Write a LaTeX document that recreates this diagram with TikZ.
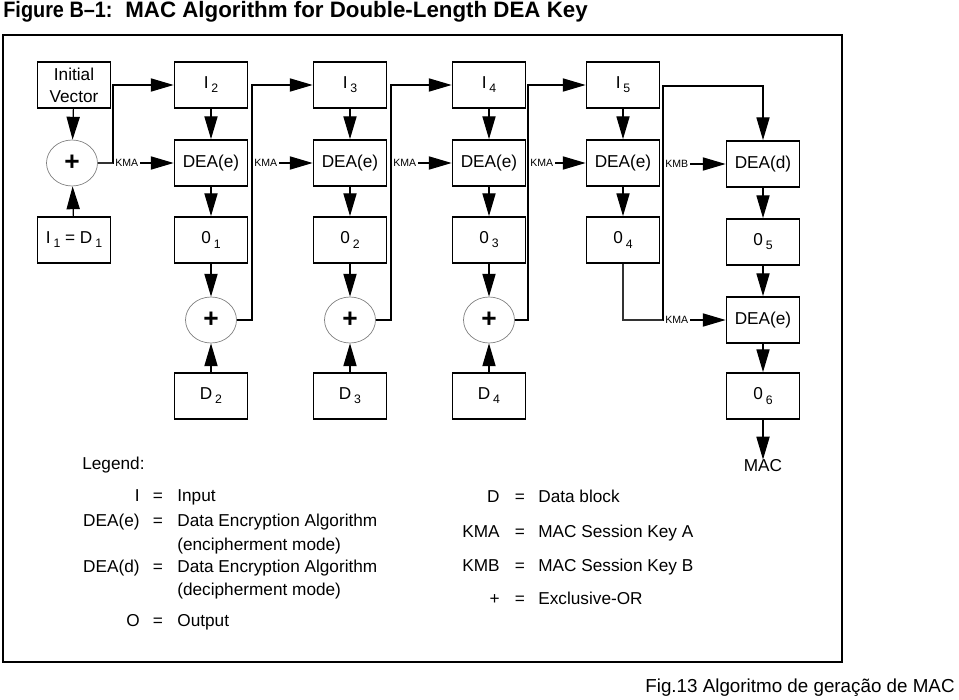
\documentclass[tikz,border=0pt]{standalone}
\usepackage{fontspec}
\setmainfont{Liberation Sans}
\usetikzlibrary{positioning, arrows.meta, shapes.geometric}

\newcommand{\idx}[1]{\,\raisebox{-0.45ex}{\fontsize{7}{8}\selectfont #1}}

\tikzset{
  blk/.style={draw, line width=1pt, minimum width=1.46cm, minimum height=0.92cm,
              inner sep=1pt, font=\fontsize{9.8}{12.5}\selectfont},
  xorc/.style={draw=gray, ellipse, minimum width=1.02cm, minimum height=0.92cm,
               inner sep=0pt, font=\fontsize{15}{15}\selectfont\bfseries},
  flow/.style={-{Triangle[length=13pt, width=7.5pt]}, line width=0.7pt},
  wire/.style={line width=0.6pt, draw=black!80},
  key/.style={font=\fontsize{6}{7}\selectfont, fill=white, inner sep=1pt, anchor=west, pos=0},
  legtxt/.style={font=\fontsize{9.8}{12}\selectfont, inner sep=0pt},
  ttltxt/.style={inner sep=0pt, anchor=west, font=\fontsize{12.7}{15}\selectfont\bfseries},
}

\begin{document}
\begin{tikzpicture}[x=0.02cm, y=-0.02cm]
  \useasboundingbox (0,0) rectangle (959,699);

  % title and frame
  \node[ttltxt] (fig) at (3,12) {\scalebox{0.89}[1]{Figure B–1:}};
  \node[ttltxt] (ttl) at (125,12) {MAC Algorithm for Double-Length DEA Key};
  \draw[line width=1.2pt] (3,35) rectangle (842,662);

  % first stage
  \node[blk, align=center] (iv) at (74,85) {Initial\\Vector};
  \node[xorc] (x1) at (72,163) {+};
  \node[blk] (d1) at (74,240) {I\idx{1} = D\idx{1}};
  \draw[flow] (iv) -- (x1);
  \draw[flow] (d1) -- (x1);

  % DEA(e) columns
  \foreach \c/\n/\x in {1/2/211, 2/3/350, 3/4/489, 4/5/623}{
    \node[blk] (in\n) at (\x,85) {I\idx{\n}};
    \node[blk] (dea\c) at (\x,163) {DEA(e)};
    \node[blk] (o\c) at (\x,240) {0\idx{\c}};
    \draw[flow] (in\n) -- (dea\c);
    \draw[flow] (dea\c) -- (o\c);
  }
  \foreach \c/\n/\x in {1/2/211, 2/3/350, 3/4/489}{
    \node[xorc] (xr\n) at (\x,320) {+};
    \node[blk] (d\n) at (\x,396) {D\idx{\n}};
    \draw[flow] (o\c) -- (xr\n);
    \draw[flow] (d\n) -- (xr\n);
  }

  % chaining
  \coordinate (j1) at (113,163);
  \coordinate (t1) at (113,85);
  \draw[wire] (x1.east) -- (j1);
  \draw[flow] (j1) -- (t1) -- (in2.west);
  \draw[flow] (j1) -- (dea1.west) node[key]{KMA};
  \foreach \n/\m/\jx in {2/3/252, 3/4/391, 4/5/528}{
    \coordinate (j\m) at (\jx,163);
    \draw[flow] (xr\n.east) -| (\jx,85) -- (in\m.west);
    \draw[flow] (j\m) -- (dea\n.west) node[key]{KMA};
  }

  % last stage
  \node[blk] (deaD) at (763,164) {DEA(d)};
  \node[blk] (o5) at (763,242) {0\idx{5}};
  \node[blk] (deaF) at (763,320) {DEA(e)};
  \node[blk] (o6) at (763,396) {0\idx{6}};
  \node[legtxt] (mac) at (763,466) {MAC};
  \coordinate (jb) at (663,320);
  \coordinate (kb) at (663,164);
  \draw[wire] (o4.south) |- (jb);
  \draw[flow] (jb) -- (663,86) -| (deaD.north);
  \draw[flow] (kb) -- (deaD.west) node[key]{KMB};
  \draw[flow] (jb) -- (deaF.west) node[key]{KMA};
  \draw[flow] (deaD) -- (o5);
  \draw[flow] (o5) -- (deaF);
  \draw[flow] (deaF) -- (o6);
  \draw[flow] (o6) -- (mac);

  % legend
  \node[legtxt, anchor=mid west] (leg) at (82,465) {Legend:};
  \foreach \s/\t/\y in {I/Input/497, DEA(e)/Data Encryption Algorithm/522,
                        DEA(d)/Data Encryption Algorithm/568, O/Output/622}{
    \node[legtxt, anchor=mid east] at (140,\y) {\s};
    \node[legtxt, anchor=mid] at (158,\y) {=};
    \node[legtxt, anchor=mid west] at (177,\y) {\t};
  }
  \node[legtxt, anchor=mid west] (enc) at (177,546) {(encipherment mode)};
  \node[legtxt, anchor=mid west] (dec) at (177,591) {(decipherment mode)};
  \foreach \s/\t/\y in {D/Data block/498, KMA/MAC Session Key A/533,
                        KMB/MAC Session Key B/567, +/Exclusive-OR/600}{
    \node[legtxt, anchor=mid east] at (500,\y) {\s};
    \node[legtxt, anchor=mid] at (520,\y) {=};
    \node[legtxt, anchor=mid west] at (538,\y) {\t};
  }

  % caption
  \node[legtxt, anchor=mid east, font=\fontsize{10.7}{13}\selectfont] (cap) at (955,688)
        {Fig.13 Algoritmo de geração de MAC};
\end{tikzpicture}
\end{document}
